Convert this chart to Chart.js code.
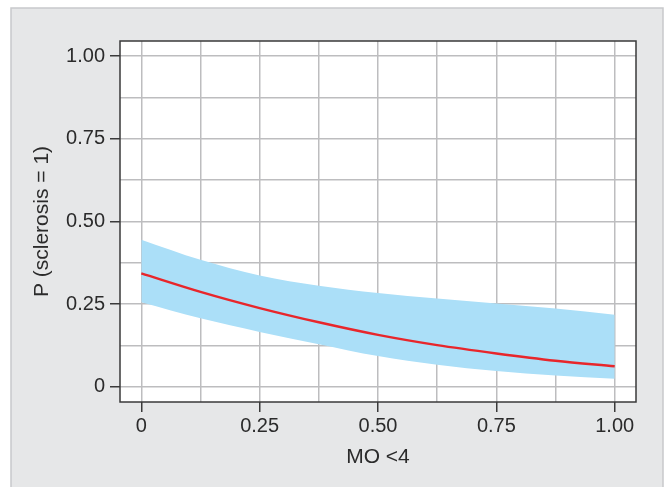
<!DOCTYPE html>
<html>
<head>
<meta charset="utf-8">
<script src="https://cdn.jsdelivr.net/npm/chart.js@4.4.0/dist/chart.umd.min.js"></script>
<style>
  html, body { margin: 0; padding: 0; background: #fff; }
  #wrap { width: 667px; height: 487px; position: relative; }
</style>
</head>
<body>
<div id="wrap"><canvas id="chart" width="667" height="487"></canvas></div>
<script>
// values
const xValues = [0, 0.125, 0.25, 0.375, 0.5, 0.625, 0.75, 0.875, 1.0];
const fitted = [0.343, 0.287, 0.238, 0.195, 0.157, 0.126, 0.101, 0.079, 0.062];
const upperCI = [0.445, 0.384, 0.337, 0.306, 0.284, 0.267, 0.252, 0.237, 0.218];
const lowerCI = [0.256, 0.207, 0.166, 0.129, 0.093, 0.067, 0.048, 0.034, 0.024];

const majorTicks = [0, 0.25, 0.5, 0.75, 1.0];
const xTickLabels = ["0", "0.25", "0.50", "0.75", "1.00"];
const yTickLabels = ["0", "0.25", "0.50", "0.75", "1.00"];
const gridValues = [0, 0.125, 0.25, 0.375, 0.5, 0.625, 0.75, 0.875, 1.0];

const FONT = "'Liberation Sans', Arial, sans-serif";
const textColor = "#2b2b2b";

function toPoints(ys) {
  return xValues.map((x, i) => ({ x: x, y: ys[i] }));
}

function majorIndex(v) {
  return majorTicks.findIndex((m) => Math.abs(m - v) < 1e-9);
}

// grey panel behind everything, plus the dark frame round the plot
const panelPlugin = {
  id: "panel",
  beforeDraw(chart) {
    const { ctx, chartArea: a } = chart;
    ctx.save();
    ctx.fillStyle = "#ffffff";
    ctx.fillRect(0, 0, chart.width, chart.height);
    ctx.fillStyle = "#e6e7e8";
    ctx.fillRect(11, 8, 652, 485);
    ctx.strokeStyle = "#c8c9cb";
    ctx.lineWidth = 1.5;
    ctx.strokeRect(11, 8, 652, 485);
    ctx.fillStyle = "#ffffff";
    ctx.fillRect(a.left, a.top, a.right - a.left, a.bottom - a.top);
    ctx.restore();
  },
  afterDraw(chart) {
    const { ctx, chartArea: a } = chart;
    ctx.save();
    ctx.strokeStyle = "#3a3a3a";
    ctx.lineWidth = 1.5;
    ctx.strokeRect(a.left, a.top, a.right - a.left, a.bottom - a.top);
    ctx.restore();
  },
};

function gridTicks(scale) {
  scale.ticks = gridValues.map((v) => ({ value: v }));
}

const gridOpts = {
  color: "#bdbdbf",
  lineWidth: 1.5,
  tickLength: 10,
  tickWidth: 1.5,
  tickColor: (c) =>
    c.tick && majorIndex(c.tick.value) >= 0 ? "#3a3a3a" : "rgba(0,0,0,0)",
};

new Chart(document.getElementById("chart"), {
  type: "line",
  data: {
    datasets: [
      {
        label: "fitted",
        data: toPoints(fitted),
        borderColor: "#e8262b",
        borderWidth: 2.5,
        pointRadius: 0,
        fill: false,
        cubicInterpolationMode: "monotone",
      },
      {
        label: "upper",
        data: toPoints(upperCI),
        borderWidth: 0,
        borderColor: "rgba(0,0,0,0)",
        backgroundColor: "#abdff8",
        pointRadius: 0,
        fill: "+1",
        cubicInterpolationMode: "monotone",
      },
      {
        label: "lower",
        data: toPoints(lowerCI),
        borderWidth: 0,
        borderColor: "rgba(0,0,0,0)",
        pointRadius: 0,
        fill: false,
        cubicInterpolationMode: "monotone",
      },
    ],
  },
  options: {
    responsive: false,
    animation: false,
    layout: { padding: { left: 0, top: 41, right: 31, bottom: 0 } },
    plugins: {
      legend: { display: false },
      tooltip: { enabled: false },
    },
    scales: {
      x: {
        type: "linear",
        min: -0.045,
        max: 1.045,
        afterBuildTicks: gridTicks,
        afterFit: (s) => { s.height = 85; },
        grid: gridOpts,
        border: { display: false },
        ticks: {
          autoSkip: false,
          maxRotation: 0,
          padding: 2,
          color: textColor,
          font: { family: FONT, size: 20 },
          callback: (v) => {
            const i = majorIndex(v);
            return i >= 0 ? xTickLabels[i] : "";
          },
        },
        title: {
          display: true,
          text: "MO <4",
          color: textColor,
          font: { family: FONT, size: 21 },
          padding: { top: 0, bottom: 17 },
        },
      },
      y: {
        type: "linear",
        min: -0.046,
        max: 1.046,
        afterBuildTicks: gridTicks,
        afterFit: (s) => { s.width = 120; },
        grid: gridOpts,
        border: { display: false },
        ticks: {
          autoSkip: false,
          padding: 5,
          color: textColor,
          font: { family: FONT, size: 20 },
          callback: (v) => {
            const i = majorIndex(v);
            return i >= 0 ? yTickLabels[i] : "";
          },
        },
        title: {
          display: true,
          text: "P (sclerosis = 1)",
          color: textColor,
          font: { family: FONT, size: 21 },
          padding: { top: 30, bottom: 0 },
        },
      },
    },
  },
  plugins: [panelPlugin],
});
</script>
</body>
</html>
